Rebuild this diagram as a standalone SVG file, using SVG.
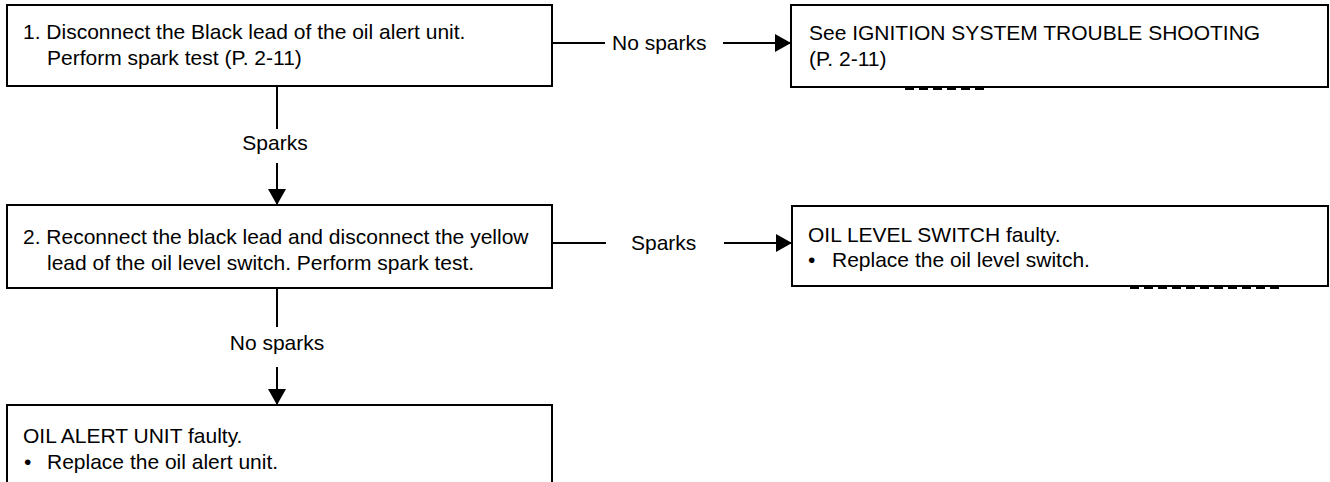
<svg xmlns="http://www.w3.org/2000/svg" width="1330" height="482" viewBox="0 0 1330 482">
<defs>
<marker id="ah" markerUnits="userSpaceOnUse" markerWidth="16" markerHeight="18" refX="16" refY="9" orient="auto">
<path d="M0,0 L16,9 L0,18 Z" fill="#000"/>
</marker>
<style>
.box{fill:#fff;stroke:#000;stroke-width:2}
.ln{stroke:#000;stroke-width:2;fill:none}
.t{font-family:"Liberation Sans",Arial,sans-serif;font-size:21px;fill:#000}
.art{stroke:#000;stroke-width:2;stroke-dasharray:9 5;fill:none}
</style>
</defs>
<rect width="1330" height="482" fill="#fff"/>
<g id="connectors">
<line class="ln" x1="552" y1="43" x2="605" y2="43"/>
<line class="ln" x1="723" y1="43" x2="791" y2="43" marker-end="url(#ah)"/>
<text class="t" x="612" y="50">No sparks</text>
<line class="ln" x1="277" y1="86" x2="277" y2="129"/>
<line class="ln" x1="277" y1="163" x2="277" y2="205" marker-end="url(#ah)"/>
<text class="t" x="275" y="150" text-anchor="middle">Sparks</text>
<line class="ln" x1="552" y1="243" x2="606" y2="243"/>
<line class="ln" x1="724" y1="243" x2="792" y2="243" marker-end="url(#ah)"/>
<text class="t" x="631" y="250">Sparks</text>
<line class="ln" x1="277" y1="288" x2="277" y2="327"/>
<line class="ln" x1="277" y1="367" x2="277" y2="405" marker-end="url(#ah)"/>
<text class="t" x="277" y="350" text-anchor="middle">No sparks</text>
</g>
<g id="step1">
<rect class="box" x="7" y="5" width="545" height="81"/>
<text class="t" x="23" y="39">1. Disconnect the Black lead of the oil alert unit.</text>
<text class="t" x="47" y="65">Perform spark test (P. 2-11)</text>
</g>
<g id="ignition">
<rect class="box" x="791" y="5" width="537" height="82"/>
<text class="t" x="809" y="40">See IGNITION SYSTEM TROUBLE SHOOTING</text>
<text class="t" x="809" y="66">(P. 2-11)</text>
<path class="art" d="M905,89 H985"/>
</g>
<g id="step2">
<rect class="box" x="7" y="205" width="545" height="83"/>
<text class="t" x="23" y="244">2. Reconnect the black lead and disconnect the yellow</text>
<text class="t" x="47" y="270">lead of the oil level switch. Perform spark test.</text>
</g>
<g id="oilswitch">
<rect class="box" x="792" y="206" width="536" height="80"/>
<text class="t" x="808" y="242">OIL LEVEL SWITCH faulty.</text>
<text class="t" x="808" y="267">•</text>
<text class="t" x="832" y="267">Replace the oil level switch.</text>
<path class="art" d="M1130,288 H1283"/>
</g>
<g id="alertunit">
<rect class="box" x="7" y="405" width="545" height="90"/>
<text class="t" x="23" y="443">OIL ALERT UNIT faulty.</text>
<text class="t" x="24" y="469">•</text>
<text class="t" x="47" y="469">Replace the oil alert unit.</text>
</g>
</svg>
